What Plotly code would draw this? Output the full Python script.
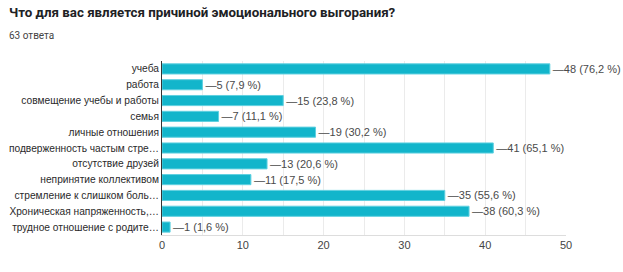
import plotly.graph_objects as go

categories = [
    "учеба",
    "работа",
    "совмещение учебы и работы",
    "семья",
    "личные отношения",
    "подверженность частым стре…",
    "отсутствие друзей",
    "непринятие коллективом",
    "стремление к слишком боль…",
    "Хроническая напряженность,…",
    "трудное отношение с родите…",
]
counts = [48, 5, 15, 7, 19, 41, 13, 11, 35, 38, 1]
percents = ["76,2", "7,9", "23,8", "11,1", "30,2", "65,1", "20,6", "17,5", "55,6", "60,3", "1,6"]
x_ticks = [0, 10, 20, 30, 40, 50]

labels = [f"—{c} ({p} %)" for c, p in zip(counts, percents)]

L, R, T, B = 162, 57, 61, 37
W, H = 623, 272

fig = go.Figure()
fig.add_trace(go.Bar(
    x=counts,
    y=categories,
    orientation="h",
    marker=dict(color="#12b5cb", line=dict(color="#5fd0e0", width=1)),
    text=labels,
    textposition="outside",
    constraintext="none",
    textfont=dict(family="Liberation Sans, Arial", size=11, color="#4a4a4a"),
    cliponaxis=False,
    hoverinfo="skip",
))

pw = W - L - R
ph = H - T - B

def px2paper(x, y):
    return (x - L) / pw, 1 - (y - T) / ph

tx, ty = px2paper(7, 12)
sx, sy = px2paper(7, 35)

fig.update_layout(
    width=W,
    height=H,
    margin=dict(l=L, r=R, t=T, b=B, autoexpand=False),
    paper_bgcolor="white",
    plot_bgcolor="white",
    bargap=0.36,
    showlegend=False,
    font=dict(family="Liberation Sans, Arial", size=11, color="#222222"),
    xaxis=dict(
        range=[0, 50],
        tickvals=x_ticks,
        showgrid=True,
        gridcolor="#ebebeb",
        gridwidth=1,
        zeroline=False,
        showline=True,
        linecolor="#dddddd",
        linewidth=1,
        ticks="",
        automargin=False,
        tickfont=dict(size=11, color="#444444"),
        minor=dict(dtick=5, tick0=0, showgrid=True, gridcolor="#ebebeb"),
    ),
    yaxis=dict(
        autorange="reversed",
        categoryorder="array",
        categoryarray=categories,
        showgrid=False,
        showline=True,
        linecolor="#333333",
        linewidth=1,
        ticks="",
        automargin=False,
        tickfont=dict(size=10.2, color="#2a2a2a"),
    ),
    annotations=[
        dict(text="<b>Что для вас является причиной эмоционального выгорания?</b>",
             x=tx, y=ty, xref="paper", yref="paper", showarrow=False,
             xanchor="left", yanchor="middle",
             font=dict(family="Roboto, Liberation Sans", size=13.3, color="#202124")),
        dict(text="63 ответа",
             x=sx, y=sy, xref="paper", yref="paper", showarrow=False,
             xanchor="left", yanchor="middle",
             font=dict(family="Roboto, Liberation Sans", size=10, color="#444444")),
    ],
)

fig.write_html("out.html", config={"displayModeBar": False},
               post_script="document.body.style.margin='0';")
